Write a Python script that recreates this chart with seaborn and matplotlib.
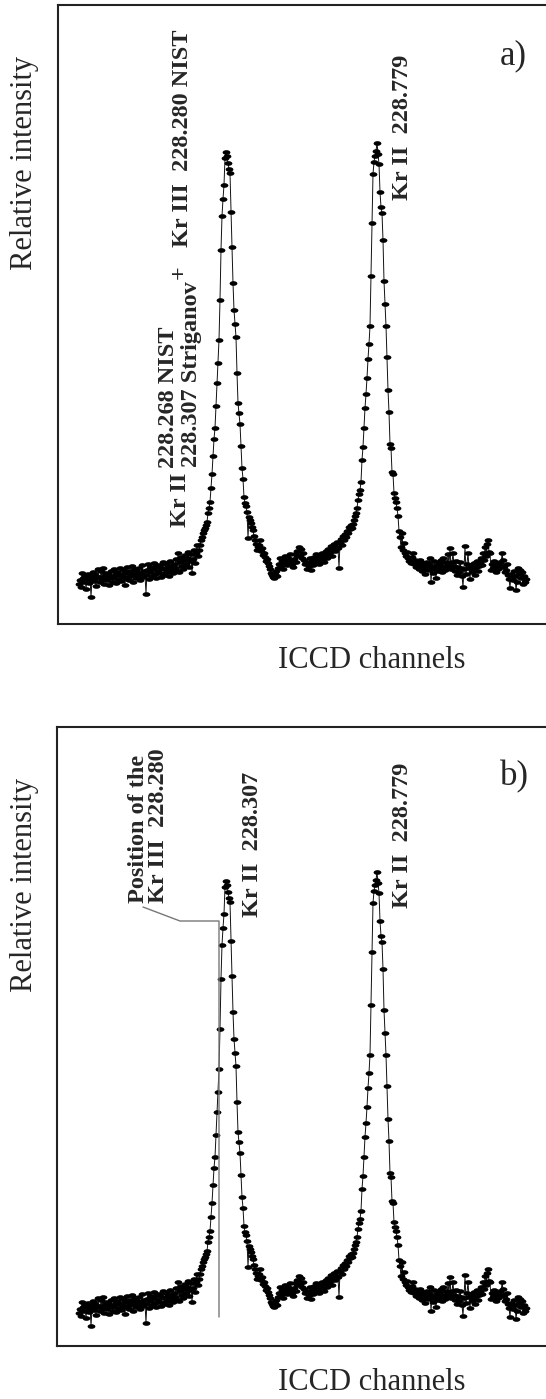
import numpy as np
import seaborn as sns
import matplotlib.pyplot as plt
import matplotlib.transforms as mtransforms
from matplotlib.path import Path

# intensity per ICCD channel (arbitrary units)
baseline_left = [40, 44, 37, 51, 46, 42, 48, 35, 45, 50, 41, 47, 27, 44, 52, 43, 49, 38, 46, 55,
                 47, 42, 53, 45, 56, 40, 48, 51, 44, 50, 39, 47, 53, 46, 42, 55, 49, 41, 52, 45,
                 50, 56, 43, 48, 54, 46, 39, 51, 57, 47, 44, 53, 49, 58, 42, 50, 55, 46, 52, 48,
                 56, 44, 51, 59, 47, 53, 49, 30, 54, 60, 45, 52, 57, 48, 55, 61, 50, 46, 58, 53,
                 59, 51, 47, 56, 62, 49, 55, 60, 52, 57, 48, 63, 54, 58, 51, 60, 56, 65, 53, 71,
                 52, 62, 67, 58, 55, 64, 69, 60, 66, 72, 57, 63, 70, 51, 65, 74, 61, 71, 79, 68]
peak_1 = [74, 79, 84, 87, 91, 94, 96, 99, 102, 111,
          116, 122, 136, 150, 168, 185, 196, 218, 241, 261,
          284, 324, 374, 408, 425, 439, 466, 472, 468, 461,
          455, 451, 412, 377, 341, 314, 300, 287, 251, 221,
          211, 200, 178, 156, 145, 127, 121, 118, 112, 86,
          107, 104, 101, 97, 94, 88, 84, 80, 74, 77,
          79, 84, 73, 76, 69, 71, 67, 63, 65, 61,
          58, 55, 51, 49, 47, 46, 50]
valley = [53, 48, 56, 60, 66, 58, 63, 55, 61, 68,
          64, 59, 66, 62, 70, 64, 60, 57, 65, 70,
          62, 73, 68, 77, 69, 75, 66, 71, 64, 60,
          62, 55, 61, 58, 66, 54, 63, 59, 67, 61,
          70, 64, 66, 60, 68, 63, 71, 65, 62, 69,
          73, 66, 75, 70, 72, 78, 68, 75, 80, 73,
          77, 82, 76, 56, 81, 85, 79, 88, 84, 90,
          87, 93, 91, 97, 95, 99, 96, 100, 104]
peak_2 = [108, 111, 116, 124, 130, 134, 142, 164, 177, 196,
          216, 230, 246, 265, 280, 298, 348, 401, 450, 462,
          468, 473, 481, 470, 460, 432, 417, 411, 384, 343,
          320, 298, 267, 234, 212, 180, 176, 152, 150, 131,
          126, 122, 116, 108, 93, 87, 77, 91, 74, 81,
          71, 68, 72, 66, 63]
baseline_right = [65, 61, 67, 71, 60, 64, 57, 62, 58, 55, 64, 59, 53, 61, 56, 50, 58, 62, 54, 60,
                  66, 42, 57, 51, 63, 55, 46, 59, 53, 61, 56, 64, 52, 66, 58, 54, 62, 57, 70, 60,
                  76, 55, 62, 71, 58, 53, 63, 49, 57, 52, 62, 56, 48, 37, 55, 78, 50, 60, 71, 56,
                  45, 59, 52, 54, 61, 49, 57, 63, 53, 58, 61, 66, 59, 71, 64, 77, 68, 80, 84, 72,
                  71, 54, 60, 56, 63, 58, 52, 61, 55, 59, 62, 57, 71, 64, 58, 52, 54, 60, 49, 45,
                  36, 50, 47, 44, 53, 48, 34, 42, 56, 50, 54, 46, 52, 40, 48, 42, 45]

intensity = np.array(baseline_left + peak_1 + valley + peak_2 + baseline_right)
channels = np.arange(len(intensity))

sns.set_style("white")
plt.rcParams['font.family'] = ['Liberation Serif', 'DejaVu Serif']

W, H = 546, 1399
fig = plt.figure(figsize=(W / 100, H / 100), dpi=100)

# flat ellipse marker like the original
ellipse = Path.unit_circle().transformed(mtransforms.Affine2D().scale(1.0, 0.6))


def draw_panel(left_px, top_px, ylim):
    ax = fig.add_axes([left_px / W, 1 - (top_px + 619) / H, 498 / W, 619 / H])
    sns.lineplot(x=channels, y=intensity, ax=ax, color='#111111', lw=0.7,
                 marker=ellipse, markersize=5.6, markeredgewidth=0,
                 markerfacecolor='black', sort=False, estimator=None)
    ax.set_xlim(left_px - 79, left_px - 79 + 498)
    ax.set_ylim(*ylim)
    ax.set_xticks([])
    ax.set_yticks([])
    ax.set_xlabel('')
    ax.set_ylabel('')
    for s in ax.spines.values():
        s.set_color('#222222')
        s.set_linewidth(1.5)
    return ax


bold = dict(rotation=90, ha='center', va='bottom', fontsize=17.5, fontweight='bold')

# panel a
ax1 = draw_panel(58, 5, (0, 619))
ax1.text(101, 97, 'Kr II', **bold)
ax1.text(89.5, 156, '228.268 NIST', **bold)
ax1.text(112.5, 157, '228.307 Striganov', **bold)
ax1.text(100.5, 345, '+', **bold)
ax1.text(103, 377, 'Kr III  228.280 NIST', **bold)
ax1.text(324, 424, 'Kr II  228.779', **bold)
ax1.text(421, 568, 'a)', ha='left', va='center', fontsize=25)
fig.text(25 / W, 1 - 163 / H, 'Relative intensity', rotation=90,
         ha='center', va='center', fontsize=22)
fig.text(372 / W, 1 - 661 / H, 'ICCD channels', ha='center', va='center', fontsize=22)

# panel b
ax2 = draw_panel(57, 727, (7, 626))
ax2.text(60, 450, 'Position of the', **bold)
ax2.text(80, 450, 'Kr III  228.280', **bold)
ax2.text(174, 436, 'Kr II  228.307', **bold)
ax2.text(324, 445, 'Kr II  228.779', **bold)
ax2.text(421, 576, 'b)', ha='left', va='center', fontsize=25)
ax2.plot([64, 101, 140, 140], [446, 432, 432, 36], color='#777777', lw=1.0)
fig.text(25 / W, 1 - 885 / H, 'Relative intensity', rotation=90,
         ha='center', va='center', fontsize=22)
fig.text(372 / W, 1 - 1383 / H, 'ICCD channels', ha='center', va='center', fontsize=22)

fig.savefig('out.png', dpi=100)
